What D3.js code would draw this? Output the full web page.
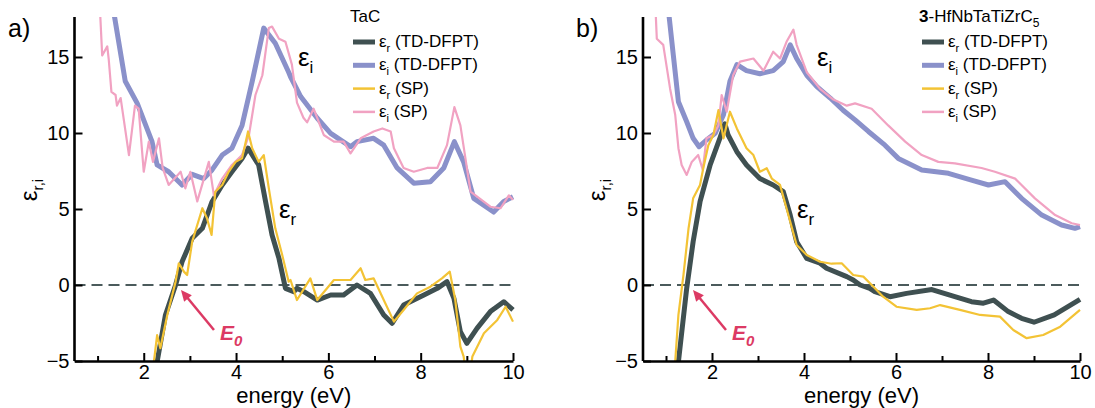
<!DOCTYPE html>
<html>
<meta charset="utf-8">
<script src="https://cdn.jsdelivr.net/npm/d3@7"></script>
<style>
body { margin: 0; background: #fff; }
svg text { font-family: "Liberation Sans", Arial, Helvetica, sans-serif; }
</style>
<body>
<svg id="chart" width="1095" height="408"></svg>
<script>
// ---- data: [energy (eV), epsilon] ----
const tacEiTD = [[1.30,18.5],[1.37,17.6],[1.60,13.4],[1.86,11.95],[2.18,9.43],[2.29,7.9],[2.54,7.45],[2.83,6.58],[3.05,7.28],[3.30,7.0],[3.48,7.57],[3.70,8.55],[3.91,9.0],[4.13,10.5],[4.35,13.4],[4.60,16.9],[4.85,15.9],[5.14,14.0],[5.18,13.7],[5.40,12.4],[5.76,10.97],[6.05,9.98],[6.48,9.1],[6.62,9.43],[6.98,9.65],[7.20,9.2],[7.49,7.7],[7.85,6.7],[8.21,6.8],[8.50,7.7],[8.73,9.43],[8.93,8.1],[9.15,5.7],[9.58,4.8],[9.80,5.5],[10.0,5.8]];
const tacEiSP = [[1.05,18.5],[1.06,17.6],[1.10,15.1],[1.21,15.7],[1.24,14.9],[1.30,12.7],[1.39,12.5],[1.42,11.8],[1.50,12.3],[1.68,8.55],[1.81,11.8],[1.89,11.6],[2.00,7.45],[2.11,9.43],[2.20,8.1],[2.33,9.65],[2.41,7.7],[2.54,6.58],[2.80,7.45],[2.90,6.36],[3.01,7.45],[3.16,5.5],[3.41,8.1],[3.52,5.9],[3.70,7.0],[3.91,7.9],[4.13,8.55],[4.28,9.87],[4.42,12.5],[4.57,13.8],[4.71,16.9],[4.78,17.0],[4.93,16.2],[5.07,16.0],[5.21,14.5],[5.32,12.0],[5.46,11.0],[5.54,10.7],[5.68,11.6],[5.90,9.87],[6.12,9.43],[6.33,9.43],[6.48,8.66],[6.70,9.65],[6.98,10.1],[7.17,10.3],[7.35,10.1],[7.42,9.0],[7.63,7.7],[7.85,7.45],[8.14,7.7],[8.36,7.7],[8.57,9.2],[8.73,11.7],[8.86,10.5],[9.08,6.14],[9.51,5.15],[9.73,5.05],[9.91,5.9],[10.0,5.6]];
const tacErTD = [[2.25,-5.5],[2.29,-5.05],[2.47,-1.97],[2.69,0],[2.83,1.53],[3.05,3.07],[3.27,3.73],[3.48,5.48],[3.70,6.58],[3.91,7.45],[4.13,8.33],[4.26,9.0],[4.49,7.9],[4.64,5.48],[4.78,3.29],[4.93,1.75],[5.07,-0.22],[5.25,-0.44],[5.32,-0.22],[5.47,-0.44],[5.76,-0.99],[6.05,-0.66],[6.33,-0.66],[6.62,0],[6.91,-0.55],[7.20,-1.97],[7.38,-2.52],[7.63,-1.32],[8.07,-0.66],[8.36,-0.22],[8.57,0.22],[8.72,-0.88],[8.86,-3.07],[9.0,-3.84],[9.22,-2.85],[9.51,-1.75],[9.80,-1.1],[10.0,-1.64]];
const tacErSP = [[2.20,-5.5],[2.22,-5.05],[2.29,-3.3],[2.36,-4.16],[2.51,-1.97],[2.69,0.22],[2.76,1.43],[2.87,0.88],[2.94,0.66],[3.05,2.85],[3.27,5.05],[3.37,4.39],[3.47,3.29],[3.55,6.14],[3.70,6.58],[3.84,7.45],[3.99,8.1],[4.13,8.33],[4.26,10.1],[4.35,9.0],[4.49,8.1],[4.60,8.55],[4.71,6.36],[4.85,3.73],[5.0,1.97],[5.14,0.22],[5.18,0.33],[5.32,-0.99],[5.61,0.44],[5.76,-0.99],[6.12,0.33],[6.48,0.33],[6.70,1.1],[6.80,0.33],[6.98,0.44],[7.20,-0.99],[7.42,-2.41],[7.63,-1.64],[7.92,-0.55],[8.21,-0.11],[8.46,0.44],[8.63,0.88],[8.75,-0.99],[8.86,-4.06],[8.93,-4.7],[8.97,-5.6],[9.08,-5.6],[9.12,-4.7],[9.37,-3.18],[9.66,-2.3],[9.84,-1.43],[10.0,-2.41]];

const hecEiTD = [[1.04,18.5],[1.07,17.6],[1.16,15.1],[1.27,12.06],[1.45,10.74],[1.59,9.65],[1.72,9.1],[1.88,9.54],[2.07,9.98],[2.25,11.2],[2.39,13.4],[2.54,14.5],[2.75,14.1],[3.04,13.9],[3.33,14.1],[3.55,14.7],[3.70,15.8],[3.84,14.9],[4.06,13.8],[4.28,13.05],[4.57,12.3],[4.85,11.5],[5.11,10.86],[5.40,10.1],[5.76,9.2],[6.05,8.33],[6.56,7.57],[7.14,7.35],[7.64,6.9],[8.01,6.58],[8.37,6.8],[8.73,5.7],[9.17,4.6],[9.60,3.95],[9.89,3.73],[10.0,3.84]];
const hecEiSP = [[0.77,18.5],[0.78,17.6],[0.80,16.2],[0.94,15.8],[1.09,12.9],[1.20,11.2],[1.27,9.0],[1.34,7.9],[1.45,7.24],[1.56,8.1],[1.70,8.55],[1.80,7.57],[1.88,9.65],[2.03,9.87],[2.14,10.5],[2.21,12.5],[2.32,11.4],[2.46,13.8],[2.61,14.7],[2.90,14.9],[3.12,14.1],[3.33,15.35],[3.48,14.9],[3.62,16.0],[3.77,16.8],[3.84,15.8],[4.06,14.0],[4.35,12.9],[4.64,12.2],[4.93,11.8],[5.11,11.95],[5.47,11.6],[5.83,10.5],[6.20,9.43],[6.56,8.55],[6.92,8.1],[7.28,8.0],[7.86,7.7],[8.15,7.45],[8.59,7.0],[9.02,5.7],[9.46,4.6],[9.82,4.06],[10.0,3.95]];
const hecErTD = [[1.24,-5.5],[1.27,-5.05],[1.45,-0.22],[1.59,2.85],[1.74,5.48],[1.96,7.9],[2.17,9.65],[2.28,10.6],[2.35,9.87],[2.54,8.77],[2.75,7.9],[3.04,7.0],[3.33,6.58],[3.55,6.14],[3.70,4.6],[3.84,2.85],[4.06,1.75],[4.35,1.43],[4.49,1.1],[4.93,0.55],[5.07,0.33],[5.22,0],[5.43,-0.22],[5.54,-0.44],[5.87,-0.77],[6.23,-0.55],[6.78,-0.3],[7.28,-0.77],[7.64,-1.1],[7.90,-1.2],[8.12,-0.99],[8.44,-1.75],[8.73,-2.19],[9.0,-2.45],[9.44,-1.97],[10.0,-0.95]];
const hecErSP = [[1.17,-5.5],[1.20,-5.05],[1.27,-1.97],[1.38,0.66],[1.49,3.73],[1.59,5.7],[1.74,6.58],[1.81,7.68],[1.92,9.2],[2.03,9.87],[2.14,11.5],[2.25,9.65],[2.39,11.4],[2.54,10.3],[2.75,9.0],[2.90,8.55],[3.04,7.45],[3.19,7.68],[3.30,7.0],[3.48,6.58],[3.62,5.05],[3.84,2.63],[4.06,1.97],[4.35,1.53],[4.60,1.4],[4.82,1.43],[5.07,0.66],[5.29,0.55],[5.51,-0.11],[5.72,-0.77],[6.01,-1.43],[6.45,-1.64],[6.74,-1.53],[6.96,-1.32],[7.39,-1.64],[7.83,-1.97],[8.26,-2.08],[8.55,-2.96],[8.84,-3.5],[9.20,-3.29],[9.57,-2.74],[10.0,-1.64]];

const xMajor = [2, 4, 6, 8, 10];
const xMinor = [1, 3, 5, 7, 9];
const yTicks = [-5, 0, 5, 10, 15];
const e0Energy = [2.72, 1.5];   // where the arrow points, per panel

const colors = { erTD: "#3f5051", eiTD: "#8a91ca", erSP: "#f3c335", eiSP: "#f1a2c2" };
const e0Color = "#dc3a64";

const svg = d3.select("#chart");

// text with a subscript, e.g. eps_r
function subText(sel, base, sub, rest, size, subSize, shift) {
	sel.append("tspan").text(base);
	sel.append("tspan").attr("font-size", subSize).attr("dy", shift).text(sub);
	if (rest) sel.append("tspan").attr("font-size", size).attr("dy", -shift).text(rest);
}

function drawPanel(p) {
	const x = d3.scaleLinear().domain([0.5, 10]).range([p.x0, p.x1]);
	const y = d3.scaleLinear().domain([-5, 15]).range([361, 57]);
	const yTop = 17;

	const g = svg.append("g");
	const clipId = "clip" + p.id;
	g.append("clipPath").attr("id", clipId)
		.append("rect")
		.attr("x", x(0.5)).attr("y", yTop)
		.attr("width", x(10) - x(0.5) + 3).attr("height", y(-5) - yTop);

	// zero line
	g.append("line")
		.attr("x1", x(0.5)).attr("x2", x(10))
		.attr("y1", y(0)).attr("y2", y(0))
		.attr("stroke", "#4b5b5c").attr("stroke-width", 2)
		.attr("stroke-dasharray", "11,6");

	const line = d3.line().x(d => x(d[0])).y(d => y(d[1]));
	const series = [
		{ data: p.eiTD, color: colors.eiTD, w: 5 },
		{ data: p.erTD, color: colors.erTD, w: 5 },
		{ data: p.eiSP, color: colors.eiSP, w: 2.2 },
		{ data: p.erSP, color: colors.erSP, w: 2.2 }
	];
	g.append("g").attr("clip-path", "url(#" + clipId + ")")
		.selectAll("path")
		.data(series)
		.join("path")
		.attr("d", d => line(d.data))
		.attr("fill", "none")
		.attr("stroke", d => d.color)
		.attr("stroke-width", d => d.w)
		.attr("stroke-linejoin", "round");

	// axes, ticks pointing inward
	const yAxis = g.append("g").attr("transform", "translate(" + x(0.5) + ",0)")
		.call(d3.axisLeft(y).tickValues(yTicks).tickSize(-8).tickSizeOuter(0).tickPadding(5));
	yAxis.select(".domain").attr("d", "M0," + yTop + "V" + y(-5));

	g.append("g").attr("transform", "translate(0," + y(-5) + ")")
		.call(d3.axisBottom(x).tickValues(xMajor).tickSize(-8).tickSizeOuter(0).tickPadding(4));
	g.append("g").attr("transform", "translate(0," + y(-5) + ")")
		.call(d3.axisBottom(x).tickValues(xMinor).tickSize(-5).tickFormat("").tickSizeOuter(0))
		.select(".domain").remove();

	g.selectAll(".domain").attr("stroke", "#000").attr("stroke-width", 2.6);
	g.selectAll(".tick line").attr("stroke", "#000").attr("stroke-width", 2);
	g.selectAll(".tick text").attr("font-size", 20).attr("fill", "#000")
		.style("font-family", "'Liberation Sans', Arial, sans-serif");

	// axis titles
	g.append("text")
		.attr("x", (x(0.5) + x(10)) / 2).attr("y", 403)
		.attr("text-anchor", "middle").attr("font-size", 22)
		.text("energy (eV)");
	const yl = g.append("text")
		.attr("transform", "translate(" + (x(0.5) - 38) + ",190) rotate(-90)")
		.attr("text-anchor", "middle").attr("font-size", 24);
	subText(yl, "ε", "r,i", null, 24, 15, 6);

	// panel letter
	g.append("text").attr("x", p.letterX).attr("y", 37).attr("font-size", 25).text(p.letter);

	// curve labels
	subText(g.append("text").attr("x", p.eiLab[0]).attr("y", p.eiLab[1]).attr("font-size", 26), "ε", "i", null, 26, 17, 7);
	subText(g.append("text").attr("x", p.erLab[0]).attr("y", p.erLab[1]).attr("font-size", 26), "ε", "r", null, 26, 17, 7);

	// E0 arrow
	const tipX = x(e0Energy[p.id]) + 4, tipY = y(0) + 5;
	const tailX = tipX + 33, tailY = tipY + 40;
	g.append("line")
		.attr("x1", tailX).attr("y1", tailY).attr("x2", tipX + 5).attr("y2", tipY + 6)
		.attr("stroke", e0Color).attr("stroke-width", 2.5);
	const ang = Math.atan2(tipY - tailY, tipX - tailX);
	const hl = 11, hw = 5;
	const bx = tipX - hl * Math.cos(ang), by = tipY - hl * Math.sin(ang);
	g.append("path")
		.attr("d", "M" + tipX + "," + tipY +
			"L" + (bx + hw * Math.sin(ang)) + "," + (by - hw * Math.cos(ang)) +
			"L" + (bx - hw * Math.sin(ang)) + "," + (by + hw * Math.cos(ang)) + "Z")
		.attr("fill", e0Color);
	const e0 = g.append("text")
		.attr("x", tailX + 6).attr("y", tailY + 10)
		.attr("font-size", 21).attr("font-weight", "bold").attr("font-style", "italic")
		.attr("fill", e0Color);
	subText(e0, "E", "0", null, 21, 15, 6);

	// legend
	const lg = g.append("g").attr("transform", "translate(" + p.legX + ",0)");
	const title = lg.append("text").attr("x", -3).attr("y", 22).attr("font-size", 17);
	p.title(title);
	const rows = [
		{ s: "r", t: " (TD-DFPT)", c: colors.erTD, w: 5 },
		{ s: "i", t: " (TD-DFPT)", c: colors.eiTD, w: 5 },
		{ s: "r", t: " (SP)", c: colors.erSP, w: 2.5 },
		{ s: "i", t: " (SP)", c: colors.eiSP, w: 2.5 }
	];
	rows.forEach(function (r, i) {
		const yy = 42 + i * 23.3;
		lg.append("line").attr("x1", 0).attr("x2", 22).attr("y1", yy).attr("y2", yy)
			.attr("stroke", r.c).attr("stroke-width", r.w);
		const t = lg.append("text").attr("x", 26).attr("y", yy + 5).attr("font-size", 17);
		subText(t, "ε", r.s, r.t, 17, 11, 5);
	});
}

drawPanel({
	id: 0, x0: 74.5, x1: 513, letter: "a)", letterX: 8,
	eiTD: tacEiTD, eiSP: tacEiSP, erTD: tacErTD, erSP: tacErSP,
	eiLab: [298, 66], erLab: [279, 218], legX: 353,
	title: t => t.text("TaC")
});
drawPanel({
	id: 1, x0: 643, x1: 1080, letter: "b)", letterX: 576,
	eiTD: hecEiTD, eiSP: hecEiSP, erTD: hecErTD, erSP: hecErSP,
	eiLab: [817, 66], erLab: [797, 218], legX: 922,
	title: function (t) {
		t.append("tspan").attr("font-weight", "bold").text("3");
		t.append("tspan").text("-HfNbTaTiZrC");
		t.append("tspan").attr("font-size", 12).attr("dy", 5).text("5");
	}
});
</script>
</body>
</html>
